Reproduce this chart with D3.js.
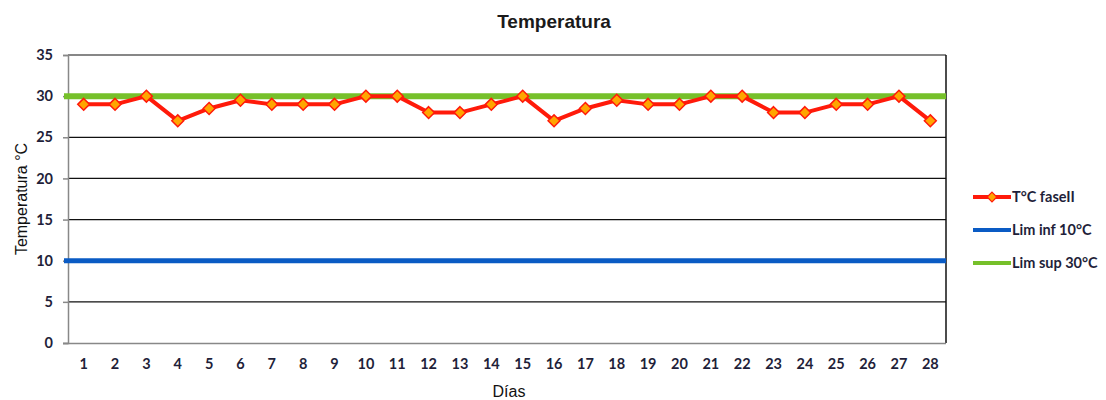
<!DOCTYPE html>
<html>
<head>
<meta charset="utf-8">
<script src="https://cdn.jsdelivr.net/npm/d3@7"></script>
<style>
  body { margin: 0; background: #fff; }
  .tick text { font-family: Lato, "Open Sans", sans-serif; font-weight: bold; font-size: 14.5px; fill: #1f1f3a; }
  .legend text { font-family: Lato, "Open Sans", sans-serif; font-weight: bold; font-size: 14.5px; fill: #1f1f3a; }
</style>
</head>
<body>
<div id="graf"></div>
<script>
const dias = d3.range(1, 29)
const tempFase2 = [29, 29, 30, 27, 28.5, 29.5, 29, 29, 29, 30, 30, 28, 28, 29, 30, 27, 28.5, 29.5, 29, 29, 30, 30, 28, 28, 29, 29, 30, 27]
const limInf = 10
const limSup = 30
const yTicks = [0, 5, 10, 15, 20, 25, 30, 35]

const ancho = 1106
const alto = 400
const margins = { left: 68, top: 55, right: 160, bottom: 57 }

const svg = d3.select("#graf")
  .append("svg")
  .attr("width", ancho)
  .attr("height", alto)

const x = d3.scaleBand()
  .domain(dias)
  .range([margins.left, ancho - margins.right])

const y = d3.scaleLinear()
  .domain([0, 35])
  .range([alto - margins.bottom, margins.top])

// lineas de la grilla
svg.append("g")
  .selectAll("line")
  .data(yTicks.filter(d => d > 0))
  .enter()
  .append("line")
  .attr("x1", margins.left)
  .attr("x2", ancho - margins.right)
  .attr("y1", d => y(d))
  .attr("y2", d => y(d))
  .attr("stroke", "#111")
  .attr("stroke-width", 1.2)

// borde derecho
svg.append("line")
  .attr("x1", ancho - margins.right)
  .attr("x2", ancho - margins.right)
  .attr("y1", margins.top)
  .attr("y2", y(0))
  .attr("stroke", "#111")
  .attr("stroke-width", 1.5)

const yAxis = d3.axisLeft(y).tickValues(yTicks).tickSize(5).tickPadding(10)
const gy = svg.append("g")
  .attr("transform", `translate(${margins.left}, 0)`)
  .call(yAxis)
gy.select(".domain").attr("stroke", "#888").attr("stroke-width", 1.5)
gy.selectAll(".tick line").attr("stroke", "#888").attr("stroke-width", 1.5)

const xAxis = d3.axisBottom(x).tickSize(0).tickPadding(16)
const gx = svg.append("g")
  .attr("transform", `translate(0, ${y(0)})`)
  .call(xAxis)
gx.select(".domain").attr("stroke", "#888").attr("stroke-width", 1.5)
gx.select(".domain").attr("d", `M${margins.left - 5},0.5H${ancho - margins.right}`)

// limites
svg.append("line")
  .attr("x1", margins.left - 4)
  .attr("x2", ancho - margins.right)
  .attr("y1", y(limInf))
  .attr("y2", y(limInf))
  .attr("stroke", "#0a5bc4")
  .attr("stroke-width", 5)

svg.append("line")
  .attr("x1", margins.left - 4)
  .attr("x2", ancho - margins.right)
  .attr("y1", y(limSup))
  .attr("y2", y(limSup))
  .attr("stroke", "#76c02a")
  .attr("stroke-width", 6)

const cx = d => x(d) + x.bandwidth() / 2

const linea = d3.line()
  .x((d, i) => cx(dias[i]))
  .y(d => y(d))

svg.append("path")
  .datum(tempFase2)
  .attr("d", linea)
  .attr("fill", "none")
  .attr("stroke", "#ff1a0a")
  .attr("stroke-width", 4)
  .attr("stroke-linejoin", "round")

const diamante = d3.symbol().type(d3.symbolDiamond2).size(90)

svg.append("g")
  .selectAll("path")
  .data(tempFase2)
  .enter()
  .append("path")
  .attr("d", diamante)
  .attr("transform", (d, i) => `translate(${cx(dias[i])}, ${y(d)})`)
  .attr("fill", "#ffa500")
  .attr("stroke", "#ff1a0a")
  .attr("stroke-width", 1.5)

// titulos
svg.append("text")
  .attr("x", 554)
  .attr("y", 28)
  .attr("text-anchor", "middle")
  .style("font-family", "Liberation Sans, Arial, sans-serif")
  .style("font-size", "19px")
  .style("font-weight", "bold")
  .style("fill", "#1a1a1a")
  .text("Temperatura")

svg.append("text")
  .attr("x", 509)
  .attr("y", 397)
  .attr("text-anchor", "middle")
  .style("font-family", "Liberation Sans, Arial, sans-serif")
  .style("font-size", "16px")
  .style("fill", "#111")
  .text("Días")

svg.append("text")
  .attr("transform", `translate(27, 199) rotate(-90)`)
  .attr("text-anchor", "middle")
  .style("font-family", "Liberation Sans, Arial, sans-serif")
  .style("font-size", "16px")
  .style("fill", "#111")
  .text("Temperatura °C")

// leyenda
const leyenda = [
  { nombre: "T°C faseII", color: "#ff1a0a", marca: true },
  { nombre: "Lim inf 10°C", color: "#0a5bc4", marca: false },
  { nombre: "Lim sup 30°C", color: "#76c02a", marca: false }
]

const lg = svg.append("g").attr("class", "legend")
leyenda.forEach((l, i) => {
  const yy = 197 + i * 33
  lg.append("line")
    .attr("x1", 973).attr("x2", 1011)
    .attr("y1", yy).attr("y2", yy)
    .attr("stroke", l.color)
    .attr("stroke-width", 4)
  if (l.marca) {
    lg.append("path")
      .attr("d", d3.symbol().type(d3.symbolDiamond2).size(60))
      .attr("transform", `translate(992, ${yy})`)
      .attr("fill", "#ffa500")
      .attr("stroke", "#ff1a0a")
      .attr("stroke-width", 1.2)
  }
  lg.append("text")
    .attr("x", 1012)
    .attr("y", yy + 5)
    .text(l.nombre)
})
</script>
</body>
</html>
